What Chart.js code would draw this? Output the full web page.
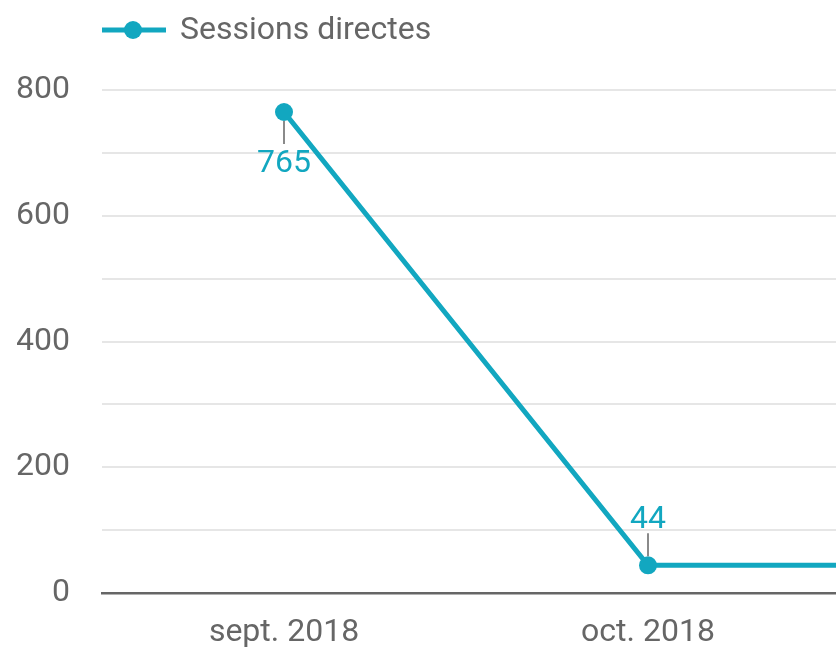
<!DOCTYPE html>
<html>
<head>
<meta charset="utf-8">
<script src="https://cdn.jsdelivr.net/npm/chart.js@4.4.1/dist/chart.umd.min.js"></script>
<style>
  html, body { margin: 0; padding: 0; overflow: hidden; background: #fff; }
  #wrap { width: 1194px; height: 648px; }
</style>
</head>
<body>
<div id="wrap"><canvas id="chart"></canvas></div>
<script>
// données
var mois = ['sept. 2018', 'oct. 2018', 'nov. 2018'];
var sessionsDirectes = [765, 44, 44];
var graduations = [0, 200, 400, 600, 800];

var teal = '#12a7c0';
var gris = '#666666';

// légende dessinée à la main : trait + rond + texte, aligné sur la zone du graphique
var legendePlugin = {
    id: 'legendePerso',
    afterDraw: function (chart) {
        var ctx = chart.ctx;
        var x0 = chart.chartArea.left;
        var y = 30;
        ctx.save();
        ctx.strokeStyle = teal;
        ctx.lineWidth = 5;
        ctx.beginPath();
        ctx.moveTo(x0, y);
        ctx.lineTo(x0 + 64, y);
        ctx.stroke();
        ctx.fillStyle = teal;
        ctx.beginPath();
        ctx.arc(x0 + 31, y, 9, 0, Math.PI * 2);
        ctx.fill();
        ctx.fillStyle = gris;
        ctx.font = '32px Roboto';
        ctx.textBaseline = 'middle';
        ctx.textAlign = 'left';
        ctx.fillText(chart.data.datasets[0].label, x0 + 78, y + 1);
        ctx.restore();
    }
};

// étiquettes de valeurs avec petit trait de rappel
var etiquettesPlugin = {
    id: 'etiquettes',
    afterDatasetsDraw: function (chart) {
        var ctx = chart.ctx;
        var meta = chart.getDatasetMeta(0);
        var data = chart.data.datasets[0].data;
        ctx.save();
        ctx.font = '32px Roboto';
        ctx.textAlign = 'center';
        ctx.textBaseline = 'middle';
        meta.data.forEach(function (pt, i) {
            var dessous = (pt.y - chart.chartArea.top) < 80;
            var sens = dessous ? 1 : -1;
            ctx.strokeStyle = '#8a8a8a';
            ctx.lineWidth = 2;
            ctx.beginPath();
            ctx.moveTo(pt.x, pt.y + sens * 9);
            ctx.lineTo(pt.x, pt.y + sens * 32);
            ctx.stroke();
            ctx.fillStyle = teal;
            ctx.fillText(String(data[i]), pt.x, pt.y + (dessous ? 52 : -45));
        });
        ctx.restore();
    }
};

new Chart(document.getElementById('chart').getContext('2d'), {
    type: 'line',
    data: {
        labels: mois,
        datasets: [{
            label: 'Sessions directes',
            data: sessionsDirectes,
            borderColor: teal,
            backgroundColor: teal,
            borderWidth: 5,
            pointRadius: 9,
            pointHoverRadius: 9,
            pointBackgroundColor: teal,
            pointBorderWidth: 0,
            tension: 0,
            clip: false
        }]
    },
    options: {
        responsive: true,
        maintainAspectRatio: false,
        animation: false,
        layout: { autoPadding: false, padding: { top: 90, left: 17, right: 0, bottom: 0 } },
        plugins: {
            legend: { display: false },
            tooltip: { enabled: false }
        },
        scales: {
            x: {
                offset: true,
                grid: { display: false, drawTicks: false },
                border: { display: true, color: gris, width: 2.5 },
                ticks: {
                    color: gris,
                    font: { family: 'Roboto', size: 32 },
                    padding: 21,
                    maxRotation: 0,
                    autoSkip: false
                },
                afterFit: function (s) { s.height = 55; }
            },
            y: {
                min: 0,
                max: 800,
                border: { display: false },
                grid: {
                    drawTicks: false,
                    lineWidth: 2,
                    color: function (c) { return c.tick && c.tick.value === 0 ? 'rgba(0,0,0,0)' : '#e6e6e6'; }
                },
                ticks: {
                    stepSize: 100,
                    padding: 32,
                    color: gris,
                    font: { family: 'Roboto', size: 32 },
                    callback: function (v) { return graduations.indexOf(v) >= 0 ? v : ''; }
                },
                afterFit: function (s) { s.width = 85; }
            }
        }
    },
    plugins: [legendePlugin, etiquettesPlugin]
});
</script>
</body>
</html>
